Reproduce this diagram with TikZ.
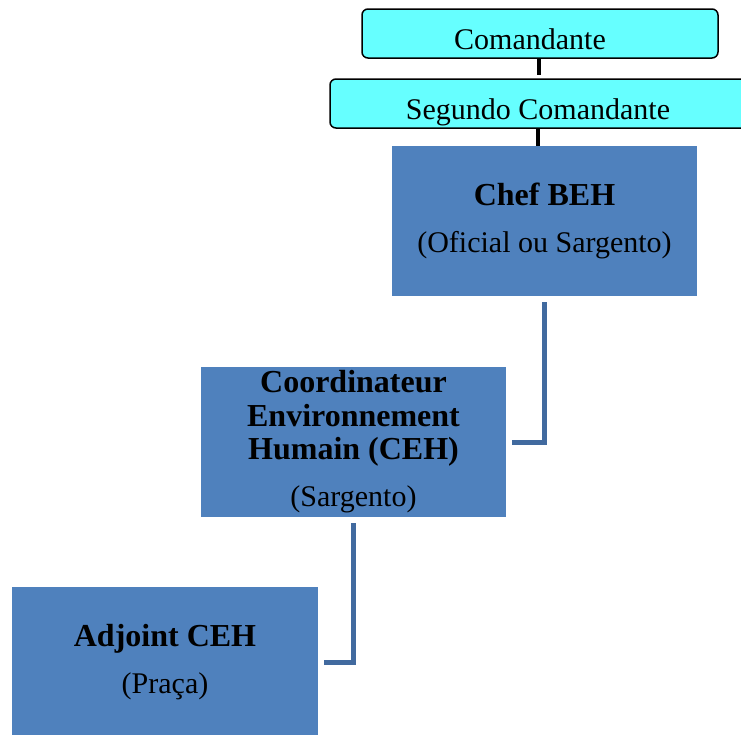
\documentclass[tikz,border=0pt]{standalone}
\usepackage{fontspec}
\setmainfont{Liberation Serif}
\definecolor{cyanbox}{HTML}{66FFFF}
\definecolor{bluebox}{HTML}{4F81BD}
\definecolor{blueline}{HTML}{416A9F}
\newcommand{\bl}[1]{{\fontsize{32}{33.5}\selectfont\bfseries #1}}
\begin{document}
\begin{tikzpicture}[x=1pt,y=-1pt,
  topbox/.style={draw=black, line width=1.5pt, fill=cyanbox, rounded corners=6pt, inner sep=0pt, text height=31pt, text depth=0pt, font=\fontsize{30}{34}\selectfont},
  bluenode/.style={fill=bluebox, inner sep=0pt, minimum width=305pt, minimum height=150pt, align=center, font=\fontsize{30}{33.5}\selectfont},
  blackconn/.style={draw=black, line width=4pt},
  blueconn/.style={draw=blueline, line width=5pt}]
\useasboundingbox (0,0) rectangle (741,734);
\node[topbox, minimum width=356pt, minimum height=49pt] (cmd) at (540,33.5) {Comandante\hspace*{20pt}};
\node[topbox, minimum width=420pt, minimum height=49pt] (seg) at (540,103.5) {Segundo Comandante\hspace*{4pt}};
\node[bluenode] (chef) at (544.5,221) {\bl{Chef BEH}\\[13.5pt](Oficial ou Sargento)};
\node[bluenode] (ceh) at (353.5,442) {\bl{Coordinateur}\\\bl{Environnement}\\\bl{Humain (CEH)}\\[13.5pt](Sargento)};
\node[bluenode, minimum width=306pt] (adj) at (165,662) {\bl{Adjoint CEH}\\[13.5pt](Praça)};
\draw[blackconn] ([xshift=-1.5pt]cmd.south) -- ([xshift=-1.5pt,yshift=3.5pt]cmd.south |- seg.north);
\draw[blackconn] ([xshift=-2pt]seg.south) -- ([xshift=-2pt]seg.south |- chef.north);
\draw[blueconn] ([yshift=-6pt]chef.south) |- ([xshift=6pt]ceh.east);
\draw[blueconn] ([yshift=-6pt]ceh.south) |- ([xshift=6pt]adj.east);
\end{tikzpicture}
\end{document}
